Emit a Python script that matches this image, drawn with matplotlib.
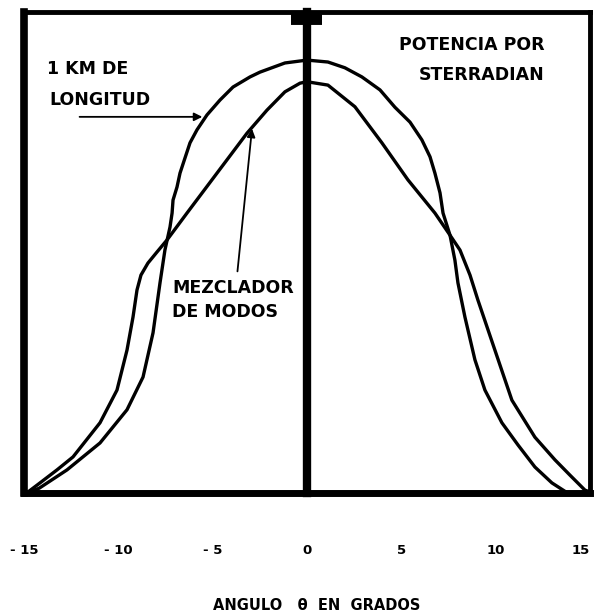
import matplotlib
matplotlib.use("Agg")
import matplotlib.pyplot as plt

# angulo (grados) y potencia relativa
x_km = [-14.68, -14.19, -12.72, -10.97, -9.54, -8.69, -8.16, -7.79, -7.53, -7.26,
        -7.15, -7.10, -6.89, -6.73, -6.47, -6.20, -5.83, -5.30, -4.61, -3.92,
        -3.02, -2.49, -1.17, 0.0, 1.11, 2.01, 2.91, 3.87, 4.66, 5.46,
        6.09, 6.52, 6.78, 7.05, 7.21, 7.58, 7.84, 8.00, 8.37, 8.90,
        9.43, 10.33, 11.18, 12.08, 12.98, 13.73]
y_km = [0.2, 1.0, 4.8, 10.4, 17.3, 24.1, 33.3, 43.7, 50.5, 55.3,
        58.2, 60.9, 63.6, 66.5, 69.6, 72.8, 75.5, 78.6, 81.7, 84.4,
        86.5, 87.5, 89.4, 90.0, 89.6, 88.4, 86.5, 83.8, 80.2, 77.1,
        73.4, 69.9, 66.5, 62.4, 58.2, 53.6, 48.4, 43.7, 36.6, 27.7,
        21.4, 14.6, 10.0, 5.4, 2.1, 0.2]

x_mez = [-14.79, -14.15, -13.25, -12.40, -10.97, -10.07, -9.54, -9.22, -9.01, -8.80,
         -8.43, -7.95, -7.42, -6.36, -4.77, -3.18, -2.12, -1.17, -0.37, 0.0,
         1.11, 2.54, 3.97, 5.35, 6.78, 7.58, 8.11, 8.64, 9.06, 9.96,
         10.86, 12.08, 13.14, 13.94, 14.73, 15.0]
y_mez = [0.2, 2.1, 4.8, 7.5, 14.6, 21.4, 29.7, 36.6, 42.2, 45.3,
         47.8, 50.1, 52.6, 58.2, 66.5, 74.8, 79.6, 83.4, 85.2, 85.5,
         84.8, 80.3, 72.8, 65.1, 58.2, 53.6, 50.5, 45.3, 40.1, 29.7,
         19.3, 11.6, 6.9, 3.7, 0.6, 0.2]

ticks = [-15, -10, -5, 0, 5, 10, 15]
tick_labels = ["- 15", "- 10", "- 5", "0", "5", "10", "15"]

fig = plt.figure(figsize=(5.95, 6.15), dpi=100)
ax = fig.add_axes([0.0403, 0.1984, 0.9513, 0.7821])
ax.set_xlim(-15, 15)
ax.set_ylim(0, 100)

ax.plot(x_km, y_km, color="black", lw=2.4, solid_capstyle="round", solid_joinstyle="round")
ax.plot(x_mez, y_mez, color="black", lw=2.4, solid_capstyle="round", solid_joinstyle="round")

# eje central y tope
ax.plot([0, 0], [0, 100], color="black", lw=6, clip_on=False)
ax.plot([-0.85, 0.8], [98.8, 98.8], color="black", lw=10, solid_capstyle="butt", clip_on=False)

for side, w in [("left", 5.5), ("bottom", 5), ("top", 3.5), ("right", 3.5)]:
    ax.spines[side].set_linewidth(w)
    ax.spines[side].set_color("black")

ax.set_yticks([])
ax.set_xticks(ticks)
ax.set_xticklabels(tick_labels, fontsize=9.5, fontweight="bold")
ax.get_xticklabels()[-1].set_horizontalalignment("right")
ax.tick_params(axis="x", length=0, pad=37)
fig.text(0.533, 0.016, "ANGULO   θ  EN  GRADOS", ha="center", va="center",
         fontsize=10.5, fontweight="bold")

txt = dict(fontsize=12.5, fontweight="bold", color="black")
ax.text(-13.8, 88.2, "1 KM DE", ha="left", va="center", **txt)
ax.text(-13.65, 81.6, "LONGITUD", ha="left", va="center", **txt)
ax.annotate("", xy=(-5.4, 78.2), xytext=(-12.2, 78.2),
            arrowprops=dict(arrowstyle="-|>", color="black", lw=1.3, mutation_scale=12))

ax.text(12.6, 93.1, "POTENCIA POR", ha="right", va="center", **txt)
ax.text(12.6, 86.9, "STERRADIAN", ha="right", va="center", **txt)

ax.text(-7.15, 42.6, "MEZCLADOR", ha="left", va="center", **txt)
ax.text(-7.15, 37.6, "DE MODOS", ha="left", va="center", **txt)
ax.annotate("", xy=(-2.9, 76.3), xytext=(-3.7, 45.5),
            arrowprops=dict(arrowstyle="-|>", color="black", lw=1.3, mutation_scale=12))

fig.savefig("out.png", dpi=100)
